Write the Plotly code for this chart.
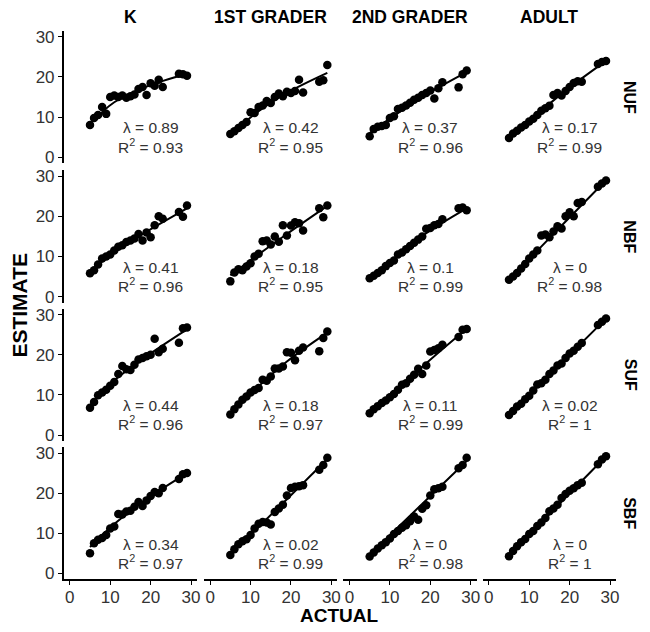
import plotly.graph_objects as go

GROUPS = ["K", "1ST GRADER", "2ND GRADER", "ADULT"]
CONDITIONS = ["NUF", "NBF", "SUF", "SBF"]
ACTUAL = [5, 6, 7, 8, 9, 10, 11, 12, 13, 14, 15, 16, 17, 18, 19, 20, 21, 22, 23, 27, 28, 29]
TICKS = [0, 10, 20, 30]

# estimates (one value per ACTUAL)
EST_K_NUF = [8.0, 9.8, 10.5, 12.5, 10.8, 15.0, 15.4, 15.0, 15.4, 14.8, 15.2, 15.6, 17.0, 17.5, 15.5, 18.4, 17.8, 19.3, 17.5, 20.8, 20.7, 20.3]
EST_1_NUF = [5.8, 6.5, 7.3, 8.0, 8.8, 11.2, 11.0, 12.5, 12.9, 14.0, 13.5, 15.0, 15.9, 15.2, 16.3, 16.0, 16.5, 19.3, 16.1, 18.8, 19.2, 23.0]
EST_2_NUF = [5.2, 7.0, 7.6, 7.8, 8.0, 9.8, 10.2, 12.0, 12.3, 12.9, 13.6, 14.3, 14.8, 15.5, 16.0, 16.6, 14.6, 17.2, 18.7, 17.4, 20.7, 21.6]
EST_A_NUF = [4.8, 5.9, 6.6, 7.4, 8.0, 8.9, 9.6, 10.5, 11.6, 12.2, 12.8, 15.5, 16.0, 15.4, 16.5, 17.5, 18.5, 18.9, 18.8, 23.2, 23.7, 24.0]
EST_K_NBF = [5.8, 6.6, 8.0, 9.5, 10.0, 10.5, 11.5, 12.4, 12.8, 13.6, 14.0, 14.5, 15.6, 14.0, 16.0, 14.8, 17.8, 20.0, 19.4, 21.1, 19.9, 22.7]
EST_1_NBF = [3.8, 6.0, 6.8, 6.6, 7.5, 8.3, 10.0, 10.7, 13.8, 14.0, 13.0, 15.0, 13.7, 17.8, 15.2, 17.7, 18.5, 18.3, 16.5, 22.0, 19.8, 22.7]
EST_2_NBF = [4.6, 5.2, 5.9, 6.6, 7.6, 8.4, 9.0, 10.5, 11.0, 11.8, 12.6, 13.4, 14.2, 15.0, 16.9, 17.1, 17.8, 18.1, 19.3, 22.0, 22.2, 21.5]
EST_A_NBF = [4.2, 5.0, 5.9, 7.0, 8.1, 9.5, 10.5, 11.5, 15.2, 15.5, 14.8, 16.2, 17.5, 17.0, 20.0, 21.0, 20.0, 23.3, 23.6, 27.4, 28.2, 28.9]
EST_K_SUF = [6.8, 8.2, 9.9, 10.6, 11.3, 12.3, 13.2, 15.2, 17.2, 16.4, 16.2, 17.5, 18.8, 19.2, 19.6, 20.0, 24.0, 20.6, 21.5, 23.0, 26.6, 26.8]
EST_1_SUF = [5.1, 6.4, 7.6, 8.8, 9.6, 10.6, 11.2, 11.7, 13.8, 13.5, 14.6, 16.6, 16.6, 17.1, 20.6, 20.5, 18.6, 21.0, 21.8, 20.9, 24.2, 25.8]
EST_2_SUF = [5.4, 6.4, 7.2, 8.0, 8.6, 9.4, 10.2, 11.3, 12.5, 12.9, 14.0, 15.0, 16.5, 15.2, 17.3, 20.8, 21.2, 21.6, 22.5, 24.4, 26.2, 26.4]
EST_A_SUF = [5.0, 6.0, 7.1, 7.8, 8.9, 9.8, 11.1, 12.6, 12.9, 13.8, 15.2, 16.1, 17.3, 17.8, 19.2, 20.3, 21.0, 22.0, 22.9, 27.4, 28.2, 29.0]
EST_K_SBF = [5.0, 7.5, 8.4, 8.8, 9.6, 11.2, 11.7, 14.8, 14.7, 15.4, 15.6, 16.6, 17.8, 16.8, 18.2, 19.3, 20.3, 20.0, 21.3, 23.5, 24.7, 25.0]
EST_1_SBF = [4.6, 6.0, 7.3, 8.0, 8.5, 9.6, 11.2, 12.4, 12.8, 12.7, 12.2, 15.3, 16.2, 17.1, 19.4, 21.3, 21.6, 21.7, 22.0, 25.8, 27.0, 28.8]
EST_2_SBF = [4.2, 5.2, 6.2, 7.0, 7.8, 8.7, 9.8, 10.6, 11.4, 12.0, 13.0, 14.2, 13.4, 16.1, 17.0, 19.4, 21.0, 21.2, 21.6, 26.2, 27.0, 28.8]
EST_A_SBF = [4.3, 5.6, 6.8, 7.8, 8.6, 9.8, 10.6, 11.8, 12.7, 13.8, 15.5, 16.2, 17.1, 18.8, 19.8, 20.6, 21.2, 22.0, 22.6, 27.2, 28.4, 29.2]

# fitted curve, read at FIT_X
FIT_X = [5, 11, 19, 29]
FIT_K_NUF = [8.3, 13.7, 17.6, 20.8]
FIT_1_NUF = [5.4, 10.7, 16.0, 21.0]
FIT_2_NUF = [6.0, 10.3, 15.6, 21.2]
FIT_A_NUF = [4.8, 9.9, 16.6, 24.0]
FIT_K_NBF = [6.0, 11.2, 16.2, 22.0]
FIT_1_NBF = [5.3, 9.8, 15.6, 22.6]
FIT_2_NBF = [4.7, 9.5, 15.8, 22.0]
FIT_A_NBF = [4.2, 10.4, 18.7, 29.0]
FIT_K_SUF = [7.3, 13.6, 19.6, 26.3]
FIT_1_SUF = [5.3, 11.2, 18.3, 25.5]
FIT_2_SUF = [5.2, 10.4, 17.9, 26.5]
FIT_A_SUF = [5.0, 11.0, 19.0, 29.0]
FIT_K_SBF = [6.6, 12.3, 18.5, 25.0]
FIT_1_SBF = [4.8, 10.6, 18.5, 28.5]
FIT_2_SBF = [4.6, 10.5, 18.3, 28.0]
FIT_A_SBF = [4.4, 10.6, 18.9, 29.2]

# lambda and R^2, row by row (conditions), columns = groups
LAMBDA_NUF = ["0.89", "0.42", "0.37", "0.17"]
LAMBDA_NBF = ["0.41", "0.18", "0.1", "0"]
LAMBDA_SUF = ["0.44", "0.18", "0.11", "0.02"]
LAMBDA_SBF = ["0.34", "0.02", "0", "0"]
R2_NUF = ["0.93", "0.95", "0.96", "0.99"]
R2_NBF = ["0.96", "0.95", "0.99", "0.98"]
R2_SUF = ["0.96", "0.97", "0.99", "1"]
R2_SBF = ["0.97", "0.99", "0.98", "1"]

EST = [
    [EST_K_NUF, EST_1_NUF, EST_2_NUF, EST_A_NUF],
    [EST_K_NBF, EST_1_NBF, EST_2_NBF, EST_A_NBF],
    [EST_K_SUF, EST_1_SUF, EST_2_SUF, EST_A_SUF],
    [EST_K_SBF, EST_1_SBF, EST_2_SBF, EST_A_SBF],
]
FIT = [
    [FIT_K_NUF, FIT_1_NUF, FIT_2_NUF, FIT_A_NUF],
    [FIT_K_NBF, FIT_1_NBF, FIT_2_NBF, FIT_A_NBF],
    [FIT_K_SUF, FIT_1_SUF, FIT_2_SUF, FIT_A_SUF],
    [FIT_K_SBF, FIT_1_SBF, FIT_2_SBF, FIT_A_SBF],
]
LAMBDA = [LAMBDA_NUF, LAMBDA_NBF, LAMBDA_SUF, LAMBDA_SBF]
R2 = [R2_NUF, R2_NBF, R2_SUF, R2_SBF]

# the page body adds an 8px margin; lay out in window pixels and shift
OFF = 8
W, H = 634, 616
FONT = "Liberation Sans, Arial, Helvetica, sans-serif"
RANGE = [-1.5, 31.5]


def px(xw):
    return (xw - OFF) / W


def py(yw):
    return 1 - (yw - OFF) / H


fig = go.Figure()
layout = dict(
    width=W, height=H, margin=dict(l=0, r=0, t=0, b=0),
    plot_bgcolor="white", paper_bgcolor="white", showlegend=False,
    font=dict(family=FONT, color="#222"),
)
annotations = []

col_left = [64, 205, 345, 485]
panel_w = 134
row_top = [28, 169, 309, 449]
panel_h = 134

for r in range(4):
    for c in range(4):
        i = r * 4 + c + 1
        xa = "x" if i == 1 else f"x{i}"
        ya = "y" if i == 1 else f"y{i}"
        xk = "xaxis" if i == 1 else f"xaxis{i}"
        yk = "yaxis" if i == 1 else f"yaxis{i}"
        bottom = r == 3
        left = c == 0
        layout[xk] = dict(
            domain=[px(col_left[c]), px(col_left[c] + panel_w)], range=RANGE, anchor=ya,
            showgrid=False, zeroline=False,
            showline=bottom, linecolor="black", linewidth=1.5,
            ticks="outside" if bottom else "", ticklen=4, tickwidth=1.2, tickcolor="black",
            tickvals=TICKS, showticklabels=bottom, ticklabelstandoff=-3,
            tickfont=dict(size=17, color="#333", family=FONT),
        )
        layout[yk] = dict(
            domain=[py(row_top[r] + panel_h), py(row_top[r])], range=RANGE, anchor=xa,
            showgrid=False, zeroline=False,
            showline=left, linecolor="black", linewidth=1.5,
            ticks="outside" if left else "", ticklen=4, tickwidth=1.2, tickcolor="black",
            tickvals=TICKS, showticklabels=left,
            tickfont=dict(size=17, color="#333", family=FONT),
        )
        fig.add_trace(go.Scatter(
            x=ACTUAL, y=EST[r][c], mode="markers", xaxis=xa, yaxis=ya,
            marker=dict(size=8.5, color="black"), hoverinfo="skip",
        ))
        fig.add_trace(go.Scatter(
            x=FIT_X, y=FIT[r][c], mode="lines", xaxis=xa, yaxis=ya,
            line=dict(color="black", width=2, shape="spline", smoothing=1.0), hoverinfo="skip",
        ))
        annotations.append(dict(
            x=20, y=7.3, xref=xa, yref=ya, text=f"λ = {LAMBDA[r][c]}", showarrow=False,
            font=dict(size=15.5, color="#333", family=FONT), xanchor="center", yanchor="middle",
        ))
        annotations.append(dict(
            x=20, y=2.9, xref=xa, yref=ya, text=f"R<sup>2</sup> = {R2[r][c]}", showarrow=False,
            font=dict(size=15.5, color="#333", family=FONT), xanchor="center", yanchor="middle",
        ))

# column strip labels
for c, g in enumerate(GROUPS):
    annotations.append(dict(
        x=px(col_left[c] + panel_w / 2), y=py(14.5), xref="paper", yref="paper",
        text=f"<b>{g}</b>", showarrow=False, font=dict(size=17.5, color="black", family=FONT),
        xanchor="center", yanchor="middle",
    ))
# row strip labels
for r, cond in enumerate(CONDITIONS):
    annotations.append(dict(
        x=px(633), y=py(row_top[r] + panel_h / 2), xref="paper", yref="paper",
        text=f"<b>{cond}</b>", showarrow=False, textangle=90,
        font=dict(size=16, color="black", family=FONT), xanchor="center", yanchor="middle",
    ))
# axis titles
annotations.append(dict(
    x=px(341), y=py(617), xref="paper", yref="paper", text="<b>ACTUAL</b>",
    showarrow=False, font=dict(size=19, color="black", family=FONT),
    xanchor="center", yanchor="middle", yshift=-2,
))
annotations.append(dict(
    x=px(20), y=py(305), xref="paper", yref="paper", text="<b>ESTIMATE</b>",
    showarrow=False, textangle=-90, font=dict(size=21, color="black", family=FONT),
    xanchor="center", yanchor="middle",
))

layout["annotations"] = annotations
fig.update_layout(**layout)
fig.write_html("out.html")
